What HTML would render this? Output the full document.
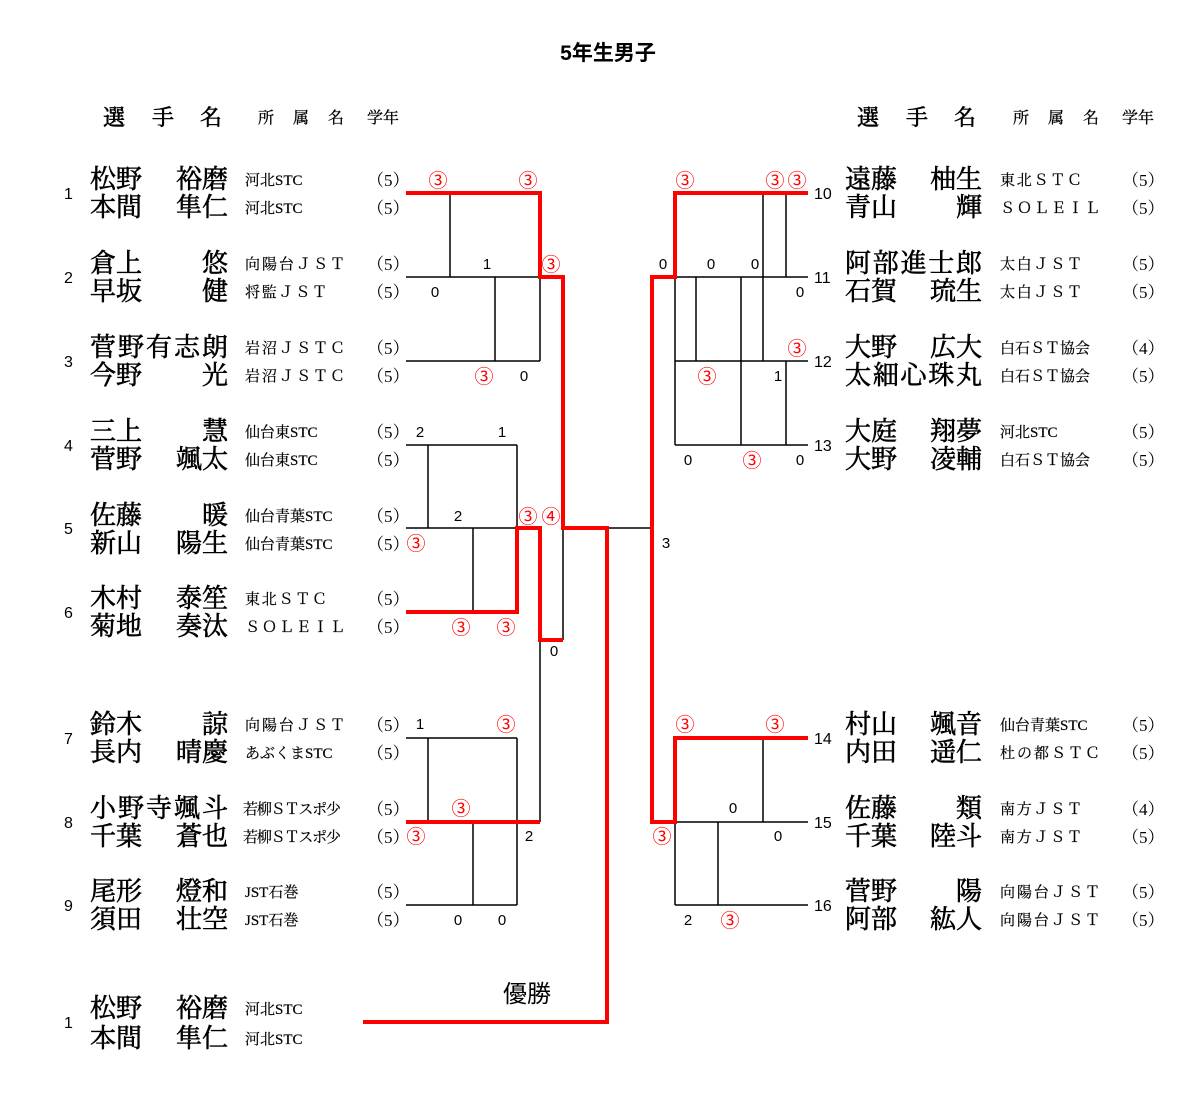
<!DOCTYPE html>
<html><head><meta charset="utf-8"><style>
html,body{margin:0;padding:0;background:#fff;}
svg{display:block;}
.n{font-family:"Liberation Serif","Noto Serif CJK JP","Noto Serif CJK SC",serif;font-size:26px;fill:#000;stroke:#000;stroke-width:0.6;}
.a{font-family:"Liberation Serif","Noto Serif CJK JP","Noto Serif CJK SC",serif;font-size:15px;fill:#000;stroke:#000;stroke-width:0.2;}
.g{font-family:"Liberation Serif","Noto Serif CJK JP","Noto Serif CJK SC",serif;font-size:17px;fill:#000;}
.h{font-family:"Liberation Serif","Noto Serif CJK JP","Noto Serif CJK SC",serif;font-size:22px;fill:#000;stroke:#000;stroke-width:0.6;}
.hs{font-family:"Liberation Serif","Noto Serif CJK JP","Noto Serif CJK SC",serif;font-size:16px;fill:#000;stroke:#000;stroke-width:0.3;}
.num{font-family:"Liberation Sans","Noto Sans CJK JP",sans-serif;font-size:16px;fill:#000;}
.s{font-family:"Liberation Sans","Noto Sans CJK JP",sans-serif;font-size:15px;fill:#000;text-anchor:middle;}
.r{font-family:"Liberation Sans","Noto Sans CJK JP",sans-serif;font-size:19px;fill:#f00;text-anchor:middle;}
.k{stroke:#000;stroke-width:1.5;fill:none;}
.red{stroke:#f00;stroke-width:4;fill:none;}
</style></head><body>
<svg width="1200" height="1106" viewBox="0 0 1200 1106" xmlns="http://www.w3.org/2000/svg">
<text x="608" y="60" text-anchor="middle" style="font-family:'Liberation Sans','Noto Sans CJK JP',sans-serif;font-size:21px;font-weight:bold">5年生男子</text>
<text class="h" x="103" y="125">選</text><text class="h" x="152" y="125">手</text><text class="h" x="200" y="125">名</text>
<text class="hs" x="258" y="123">所</text><text class="hs" x="293" y="123">属</text><text class="hs" x="328" y="123">名</text><text class="hs" x="367" y="123">学年</text>
<text class="h" x="857" y="125">選</text><text class="h" x="906" y="125">手</text><text class="h" x="954" y="125">名</text>
<text class="hs" x="1013" y="123">所</text><text class="hs" x="1048" y="123">属</text><text class="hs" x="1083" y="123">名</text><text class="hs" x="1122" y="123">学年</text>

<g class="k">
<path d="M406 277H540M406 361H540M450 193V277M495 277V361M540 277V361"/>
<path d="M406 445H517M406 528H517M428 445V528M517 445V528M473 528V612M563 528V640"/>
<path d="M406 738H517M406 905H517M428 738V822M517 738V905M473 822V905M540 640V822"/>
<path d="M607 528H652M652 277V528"/>
<path d="M675 277H808M675 361H808M675 445H808M675 277V445M696 277V361M741 277V445M763 193V361M786 193V277M786 361V445"/>
<path d="M675 822H808M675 905H808M675 822V905M718 822V905M763 738V822"/>
</g>
<g class="red">
<path d="M406 193H540V277H563V528H607V1022H363"/>
<path d="M406 612H517V528H540V640H563"/>
<path d="M406 822H540"/>
<path d="M808 193H675V277H652V822H675V738H808"/>
</g>

<g>
<text class="num" x="64" y="199">1</text>
<text class="n" x="90" y="188">松野</text><text class="n" x="228" y="188" text-anchor="end">裕磨</text>
<text class="n" x="90" y="216">本間</text><text class="n" x="228" y="216" text-anchor="end">隼仁</text>
<text class="a" x="245" y="185">河北STC</text><text class="a" x="245" y="213">河北STC</text>
<text class="g" x="367" y="186">（5）</text><text class="g" x="367" y="214">（5）</text>

<text class="num" x="64" y="283">2</text>
<text class="n" x="90" y="272">倉上</text><text class="n" x="228" y="272" text-anchor="end">悠</text>
<text class="n" x="90" y="300">早坂</text><text class="n" x="228" y="300" text-anchor="end">健</text>
<text class="a" x="245" y="269" textLength="100">向陽台ＪＳＴ</text><text class="a" x="245" y="297" textLength="82">将監ＪＳＴ</text>
<text class="g" x="367" y="270">（5）</text><text class="g" x="367" y="298">（5）</text>

<text class="num" x="64" y="367">3</text>
<text class="n" x="90" y="356" textLength="138">菅野有志朗</text>
<text class="n" x="90" y="384">今野</text><text class="n" x="228" y="384" text-anchor="end">光</text>
<text class="a" x="245" y="353" textLength="100">岩沼ＪＳＴＣ</text><text class="a" x="245" y="381" textLength="100">岩沼ＪＳＴＣ</text>
<text class="g" x="367" y="354">（5）</text><text class="g" x="367" y="382">（5）</text>

<text class="num" x="64" y="451">4</text>
<text class="n" x="90" y="440">三上</text><text class="n" x="228" y="440" text-anchor="end">慧</text>
<text class="n" x="90" y="468">菅野</text><text class="n" x="228" y="468" text-anchor="end">颯太</text>
<text class="a" x="245" y="437">仙台東STC</text><text class="a" x="245" y="465">仙台東STC</text>
<text class="g" x="367" y="438">（5）</text><text class="g" x="367" y="466">（5）</text>

<text class="num" x="64" y="534">5</text>
<text class="n" x="90" y="524">佐藤</text><text class="n" x="228" y="524" text-anchor="end">暖</text>
<text class="n" x="90" y="552">新山</text><text class="n" x="228" y="552" text-anchor="end">陽生</text>
<text class="a" x="245" y="521">仙台青葉STC</text><text class="a" x="245" y="549">仙台青葉STC</text>
<text class="g" x="367" y="522">（5）</text><text class="g" x="367" y="550">（5）</text>

<text class="num" x="64" y="618">6</text>
<text class="n" x="90" y="607">木村</text><text class="n" x="228" y="607" text-anchor="end">泰笙</text>
<text class="n" x="90" y="635">菊地</text><text class="n" x="228" y="635" text-anchor="end">奏汰</text>
<text class="a" x="245" y="604" textLength="82">東北ＳＴＣ</text><text class="a" x="245" y="632" textLength="100">ＳＯＬＥＩＬ</text>
<text class="g" x="367" y="605">（5）</text><text class="g" x="367" y="633">（5）</text>

<text class="num" x="64" y="744">7</text>
<text class="n" x="90" y="733">鈴木</text><text class="n" x="228" y="733" text-anchor="end">諒</text>
<text class="n" x="90" y="761">長内</text><text class="n" x="228" y="761" text-anchor="end">晴慶</text>
<text class="a" x="245" y="730" textLength="100">向陽台ＪＳＴ</text><text class="a" x="245" y="758">あぶくまSTC</text>
<text class="g" x="367" y="731">（5）</text><text class="g" x="367" y="759">（5）</text>

<text class="num" x="64" y="828">8</text>
<text class="n" x="90" y="817" textLength="138">小野寺颯斗</text>
<text class="n" x="90" y="845">千葉</text><text class="n" x="228" y="845" text-anchor="end">蒼也</text>
<text class="a" x="243" y="814" textLength="98">若柳ＳＴスポ少</text><text class="a" x="243" y="842" textLength="98">若柳ＳＴスポ少</text>
<text class="g" x="367" y="815">（5）</text><text class="g" x="367" y="843">（5）</text>

<text class="num" x="64" y="911">9</text>
<text class="n" x="90" y="900">尾形</text><text class="n" x="228" y="900" text-anchor="end">燈和</text>
<text class="n" x="90" y="928">須田</text><text class="n" x="228" y="928" text-anchor="end">壮空</text>
<text class="a" x="245" y="897">JST石巻</text><text class="a" x="245" y="925">JST石巻</text>
<text class="g" x="367" y="898">（5）</text><text class="g" x="367" y="926">（5）</text>

<text class="num" x="64" y="1028">1</text>
<text class="n" x="90" y="1017">松野</text><text class="n" x="228" y="1017" text-anchor="end">裕磨</text>
<text class="n" x="90" y="1047">本間</text><text class="n" x="228" y="1047" text-anchor="end">隼仁</text>
<text class="a" x="245" y="1014">河北STC</text><text class="a" x="245" y="1044">河北STC</text>
</g>

<g>
<text class="num" x="814" y="199">10</text>
<text class="n" x="845" y="188">遠藤</text><text class="n" x="982" y="188" text-anchor="end">柚生</text>
<text class="n" x="845" y="216">青山</text><text class="n" x="982" y="216" text-anchor="end">輝</text>
<text class="a" x="1000" y="185" textLength="82">東北ＳＴＣ</text><text class="a" x="1000" y="213" textLength="100">ＳＯＬＥＩＬ</text>
<text class="g" x="1122" y="186">（5）</text><text class="g" x="1122" y="214">（5）</text>

<text class="num" x="814" y="283">11</text>
<text class="n" x="845" y="272" textLength="137">阿部進士郎</text>
<text class="n" x="845" y="300">石賀</text><text class="n" x="982" y="300" text-anchor="end">琉生</text>
<text class="a" x="1000" y="269" textLength="82">太白ＪＳＴ</text><text class="a" x="1000" y="297" textLength="82">太白ＪＳＴ</text>
<text class="g" x="1122" y="270">（5）</text><text class="g" x="1122" y="298">（5）</text>

<text class="num" x="814" y="367">12</text>
<text class="n" x="845" y="356">大野</text><text class="n" x="982" y="356" text-anchor="end">広大</text>
<text class="n" x="845" y="384" textLength="137">太細心珠丸</text>
<text class="a" x="1000" y="353" textLength="90">白石ＳＴ協会</text><text class="a" x="1000" y="381" textLength="90">白石ＳＴ協会</text>
<text class="g" x="1122" y="354">（4）</text><text class="g" x="1122" y="382">（5）</text>

<text class="num" x="814" y="451">13</text>
<text class="n" x="845" y="440">大庭</text><text class="n" x="982" y="440" text-anchor="end">翔夢</text>
<text class="n" x="845" y="468">大野</text><text class="n" x="982" y="468" text-anchor="end">凌輔</text>
<text class="a" x="1000" y="437">河北STC</text><text class="a" x="1000" y="465" textLength="90">白石ＳＴ協会</text>
<text class="g" x="1122" y="438">（5）</text><text class="g" x="1122" y="466">（5）</text>

<text class="num" x="814" y="744">14</text>
<text class="n" x="845" y="733">村山</text><text class="n" x="982" y="733" text-anchor="end">颯音</text>
<text class="n" x="845" y="761">内田</text><text class="n" x="982" y="761" text-anchor="end">遥仁</text>
<text class="a" x="1000" y="730">仙台青葉STC</text><text class="a" x="1000" y="758" textLength="100">杜の都ＳＴＣ</text>
<text class="g" x="1122" y="731">（5）</text><text class="g" x="1122" y="759">（5）</text>

<text class="num" x="814" y="828">15</text>
<text class="n" x="845" y="817">佐藤</text><text class="n" x="982" y="817" text-anchor="end">類</text>
<text class="n" x="845" y="845">千葉</text><text class="n" x="982" y="845" text-anchor="end">陸斗</text>
<text class="a" x="1000" y="814" textLength="82">南方ＪＳＴ</text><text class="a" x="1000" y="842" textLength="82">南方ＪＳＴ</text>
<text class="g" x="1122" y="815">（4）</text><text class="g" x="1122" y="843">（5）</text>

<text class="num" x="814" y="911">16</text>
<text class="n" x="845" y="900">菅野</text><text class="n" x="982" y="900" text-anchor="end">陽</text>
<text class="n" x="845" y="928">阿部</text><text class="n" x="982" y="928" text-anchor="end">紘人</text>
<text class="a" x="1000" y="897" textLength="100">向陽台ＪＳＴ</text><text class="a" x="1000" y="925" textLength="100">向陽台ＪＳＴ</text>
<text class="g" x="1122" y="898">（5）</text><text class="g" x="1122" y="926">（5）</text>
</g>

<g>
<text class="r" x="438" y="187">③</text><text class="r" x="528" y="187">③</text>
<text class="s" x="487" y="269">1</text><text class="r" x="551" y="271">③</text>
<text class="s" x="435" y="297">0</text>
<text class="r" x="484" y="383">③</text><text class="s" x="524" y="381">0</text>
<text class="s" x="420" y="437">2</text><text class="s" x="502" y="437">1</text>
<text class="s" x="458" y="521">2</text>
<text class="r" x="528" y="523">③</text><text class="r" x="551" y="523">④</text>
<text class="r" x="416" y="550">③</text>
<text class="r" x="461" y="634">③</text><text class="r" x="506" y="634">③</text>
<text class="s" x="554" y="656">0</text>
<text class="s" x="420" y="729">1</text><text class="r" x="506" y="731">③</text>
<text class="r" x="461" y="815">③</text>
<text class="r" x="416" y="843">③</text><text class="s" x="529" y="841">2</text>
<text class="s" x="458" y="925">0</text><text class="s" x="502" y="925">0</text>

<text class="r" x="685" y="187">③</text><text class="r" x="775" y="187">③</text><text class="r" x="797" y="187">③</text>
<text class="s" x="663" y="269">0</text><text class="s" x="711" y="269">0</text><text class="s" x="755" y="269">0</text>
<text class="s" x="800" y="297">0</text>
<text class="r" x="797" y="355">③</text>
<text class="r" x="707" y="383">③</text><text class="s" x="778" y="381">1</text>
<text class="s" x="688" y="465">0</text><text class="r" x="752" y="467">③</text><text class="s" x="800" y="465">0</text>
<text class="s" x="666" y="548">3</text>
<text class="r" x="685" y="731">③</text><text class="r" x="775" y="731">③</text>
<text class="s" x="733" y="813">0</text>
<text class="r" x="662" y="843">③</text><text class="s" x="778" y="841">0</text>
<text class="s" x="688" y="925">2</text><text class="r" x="730" y="927">③</text>
</g>
<text x="527" y="1002" text-anchor="middle" style="font-family:'Liberation Sans','Noto Sans CJK JP',sans-serif;font-size:24px">優勝</text>
</svg>
</body></html>
